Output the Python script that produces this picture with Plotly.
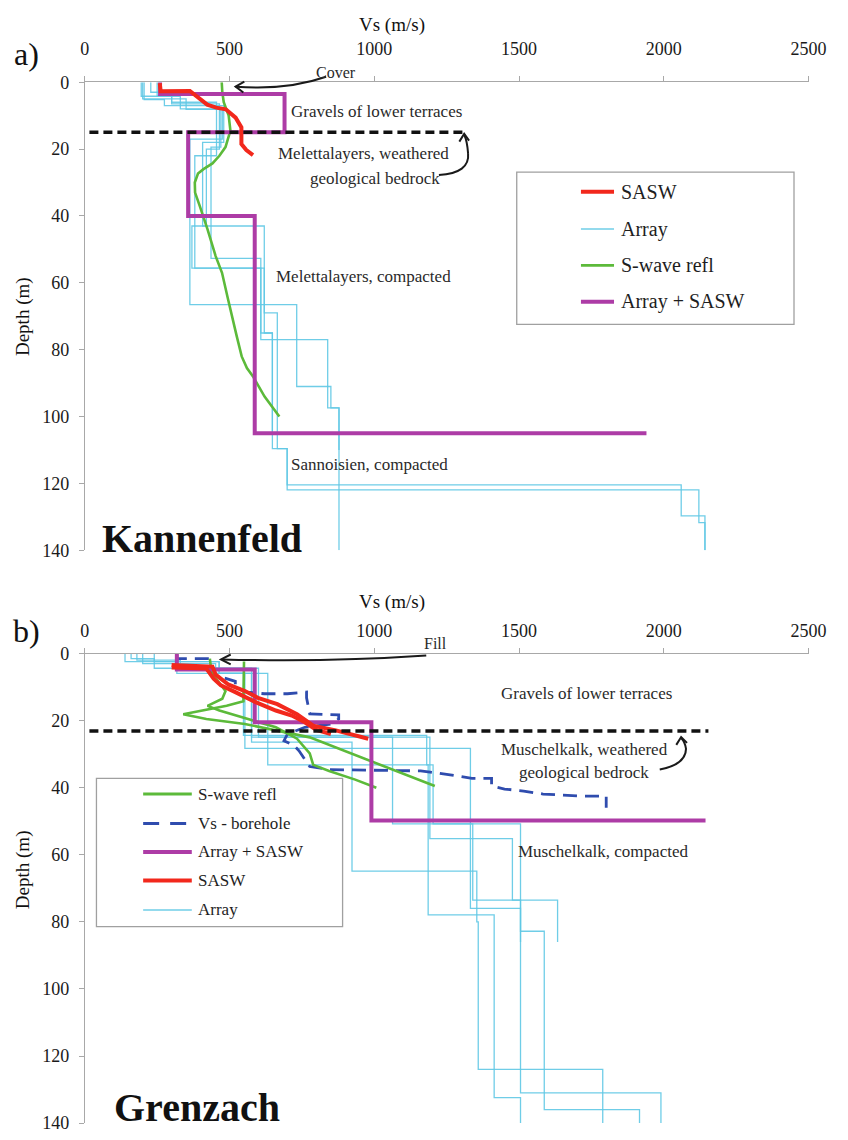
import plotly.graph_objects as go

W, H = 848, 1140
SERIF = "Liberation Serif"

# ---------------- a) Kannenfeld ----------------
ka_sasw_vs = [259, 262, 363, 396, 423, 454, 487, 521, 541, 541, 558, 581]
ka_sasw_depth = [0.3, 2.7, 2.6, 4.7, 6.7, 7.6, 8.1, 10.6, 13.5, 18.5, 20.3, 21.8]

ka_refl_vs = [473, 475, 480, 497, 503, 495, 486, 465, 441, 410, 391, 380, 381, 397,
              424, 452, 474, 495, 508, 525, 542, 560, 581, 621, 672]
ka_refl_depth = [0, 3, 6, 10, 14.5, 17, 19.4, 22, 24.3, 26, 27.3, 30, 33, 37,
                 44, 52, 57, 65, 70, 76, 82, 85.5, 88, 94, 100]

# Array + SASW layered model: layer velocities, layer bottoms, half-space
ka_comb_vs = [260, 690, 357, 587]
ka_comb_bottom = [3.5, 15, 40, 105]
ka_comb_halfspace = 1940

# Array inversions (layer velocities / layer bottoms)
ka_arr1_vs = [195, 330, 470, 436, 608, 839, 850, 878]
ka_arr1_bottom = [4.2, 8, 19.4, 52.7, 77, 91, 97.4, 140]
ka_arr2_vs = [205, 275, 480, 407, 620, 665, 699, 2060, 2142]
ka_arr2_bottom = [5.2, 7, 18, 43, 69, 109.6, 120.4, 129.7, 140]
ka_arr3_vs = [228, 300, 455, 380, 620, 648, 699, 2121, 2142]
ka_arr3_bottom = [3, 6, 22, 55.6, 75, 109.6, 121.9, 131.7, 140]
ka_arr4_vs = [200, 350, 475, 363, 732, 839, 878]
ka_arr4_bottom = [5, 8.1, 17, 66.5, 91, 97.4, 110]
ka_arr5_vs = [250, 300, 465, 420, 370, 608, 648]
ka_arr5_bottom = [4, 6.5, 20, 43, 55.6, 75, 105]

ka_boundary_depth = 15
ka_boundary_vs = [16, 1310]

# ---------------- b) Grenzach ----------------
gr_sasw1_vs = [300, 441, 452, 497, 553, 598, 665, 733, 789, 867, 979]
gr_sasw1_depth = [3.4, 3.9, 6.3, 9.3, 11.2, 13.2, 15.1, 18.1, 21.5, 22.9, 25.4]
gr_sasw2_vs = [300, 420, 445, 470, 520, 590, 660, 715, 760, 800, 850]
gr_sasw2_depth = [4.2, 4.5, 7.5, 9.5, 11.5, 14.5, 17, 18.5, 20.5, 22.8, 24]

gr_refl1_vs = [432, 436, 452, 486, 475, 424, 465, 560, 660, 733, 777, 789, 844, 934, 1007]
gr_refl1_depth = [1.5, 4.4, 7.3, 11.2, 13.5, 15.6, 17, 19.5, 22, 25.4, 29.8, 33.2, 35, 37.6, 40]
gr_refl2_vs = [550, 549, 548, 490, 400, 340, 420, 553, 777, 979, 1209]
gr_refl2_depth = [2.4, 8, 14.2, 15.6, 17, 18.1, 19.5, 21, 25, 31.7, 39.5]

gr_borehole_vs = [318, 318, 430, 430, 445, 520, 520, 560, 620, 700, 766, 766, 777, 877,
                  877, 850, 760, 700, 688, 721, 740, 755, 777, 844, 1160, 1226, 1293,
                  1337, 1405, 1405, 1450, 1516, 1583, 1717, 1801, 1801]
gr_borehole_depth = [0.3, 1.5, 1.5, 5, 6.3, 8.3, 10, 11.5, 12, 12, 11.5, 13.2, 18, 18.3,
                     19.5, 21, 22, 24, 26, 27.3, 29, 30.8, 33.7, 34.6, 35, 35.7, 36.6,
                     37.2, 37.2, 39.5, 40.4, 41, 41.9, 42.5, 42.5, 46]

gr_comb_vs = [318, 587, 990]
gr_comb_bottom = [4.8, 20.5, 49.8]
gr_comb_halfspace = 2144

gr_arr1_vs = [139, 318, 548, 1181, 1186, 1414, 1505]
gr_arr1_bottom = [2.4, 5.9, 24.4, 33.2, 77.9, 132.4, 140]
gr_arr2_vs = [160, 240, 576, 1192, 1477, 1633]
gr_arr2_bottom = [1.5, 4.4, 24.9, 55.2, 73.5, 86]
gr_arr3_vs = [200, 452, 576, 923, 1354, 1359, 1789]
gr_arr3_bottom = [3, 5.9, 26.4, 64.9, 80, 124, 140]
gr_arr4_vs = [240, 464, 553, 1332, 1505, 1587, 1916]
gr_arr4_bottom = [2.4, 5.9, 28.3, 76, 82.8, 136, 140]
gr_arr5_vs = [318, 464, 632, 1203, 1505, 1990]
gr_arr5_bottom = [2.4, 5.9, 33.2, 50.8, 131, 140]
gr_arr6_vs = [180, 330, 600, 1063, 1340, 1505]
gr_arr6_bottom = [2, 4.4, 24.9, 50.8, 73.5, 86]

gr_boundary_depth = 23.1
gr_boundary_vs = [16, 2154]

x_ticks = [0, 500, 1000, 1500, 2000, 2500]
depth_ticks = [0, 20, 40, 60, 80, 100, 120, 140]

C_SASW = "#f2281c"
C_ARRAY = "rgba(95,200,228,0.9)"
C_REFL = "#5cba3a"
C_COMB = "#ad3ca6"
C_BORE = "#2f4cae"


def layered(vs, bottoms, halfspace=None):
    """Turn layer velocities + bottom depths into a step profile."""
    xs, ys, top = [], [], 0
    for v, b in zip(vs, bottoms):
        xs += [v, v]
        ys += [top, b]
        top = b
    if halfspace is not None:
        xs.append(halfspace)
        ys.append(top)
    return xs, ys


def px(x, y):
    return x / W, 1 - y / H


fig = go.Figure()


def add(xs, ys, axis, color, width, dash=None):
    fig.add_trace(go.Scatter(
        x=xs, y=ys, mode="lines", xaxis="x" + axis, yaxis="y" + axis,
        line=dict(color=color, width=width, dash=dash, shape="linear"),
        showlegend=False, hoverinfo="skip"))


# panel a
for vs, bt in [(ka_arr1_vs, ka_arr1_bottom), (ka_arr2_vs, ka_arr2_bottom),
               (ka_arr3_vs, ka_arr3_bottom), (ka_arr4_vs, ka_arr4_bottom),
               (ka_arr5_vs, ka_arr5_bottom)]:
    add(*layered(vs, bt), "", C_ARRAY, 1.3)
add(ka_refl_vs, ka_refl_depth, "", C_REFL, 2.6)
add(*layered(ka_comb_vs, ka_comb_bottom, ka_comb_halfspace), "", C_COMB, 4)
add(ka_sasw_vs, ka_sasw_depth, "", C_SASW, 4)
add(ka_boundary_vs, [ka_boundary_depth] * 2, "", "#111", 3.5, "9px,5px")

# panel b
for vs, bt in [(gr_arr1_vs, gr_arr1_bottom), (gr_arr2_vs, gr_arr2_bottom),
               (gr_arr3_vs, gr_arr3_bottom), (gr_arr4_vs, gr_arr4_bottom),
               (gr_arr5_vs, gr_arr5_bottom), (gr_arr6_vs, gr_arr6_bottom)]:
    add(*layered(vs, bt), "2", C_ARRAY, 1.3)
add(gr_borehole_vs, gr_borehole_depth, "2", C_BORE, 2.8, "14px,8px")
add(gr_refl1_vs, gr_refl1_depth, "2", C_REFL, 2.6)
add(gr_refl2_vs, gr_refl2_depth, "2", C_REFL, 2.6)
add(*layered(gr_comb_vs, gr_comb_bottom, gr_comb_halfspace), "2", C_COMB, 4)
add(gr_sasw1_vs, gr_sasw1_depth, "2", C_SASW, 4)
add(gr_sasw2_vs, gr_sasw2_depth, "2", C_SASW, 4)
add(gr_boundary_vs, [gr_boundary_depth] * 2, "2", "#111", 3.5, "9px,5px")

xdom = [82 / W, 826 / W]
axis_common = dict(showgrid=False, zeroline=False, showline=True, linecolor="#a8a8a8",
                   linewidth=1, ticks="outside", ticklen=5, tickcolor="#a8a8a8",
                   tickfont=dict(family=SERIF, size=18, color="#1a1a1a"))

fig.update_layout(
    width=W, height=H, margin=dict(l=0, r=0, t=0, b=0),
    paper_bgcolor="white", plot_bgcolor="white", showlegend=False,
    font=dict(family=SERIF),
    xaxis=dict(domain=xdom, range=[0, 2500], side="top", anchor="y",
               tickvals=x_ticks, ticklabelstandoff=14, **axis_common),
    yaxis=dict(domain=[1 - 550 / H, 1 - 73.5 / H], range=[140, 0], anchor="x",
               tickvals=depth_ticks, ticklabelstandoff=6, **axis_common),
    xaxis2=dict(domain=xdom, range=[0, 2500], side="top", anchor="y2",
                tickvals=x_ticks, ticklabelstandoff=3, **axis_common),
    yaxis2=dict(domain=[1 - 1133 / H, 1 - 655 / H], range=[140, 0], anchor="x2",
                tickvals=depth_ticks, ticklabelstandoff=6, **axis_common),
)

annotations = []
shapes = []


def text(x, y, s, size=16, bold=False, angle=0, anchor="center", color="#2a2a2a"):
    ax, ay = px(x, y)
    annotations.append(dict(
        x=ax, y=ay, xref="paper", yref="paper", text=f"<b>{s}</b>" if bold else s,
        showarrow=False, xanchor=anchor, yanchor="middle", textangle=angle,
        font=dict(family=SERIF, size=size, color=color)))


def path(points_cmd, color="#1a1a1a", width=2):
    out = []
    for item in points_cmd:
        if isinstance(item, str):
            out.append(item)
        else:
            a, b = px(*item)
            out.append(f"{a:.5f},{b:.5f}")
    shapes.append(dict(type="path", xref="paper", yref="paper", path=" ".join(out),
                       line=dict(color=color, width=width)))


# panel labels and titles
text(22, 45, "a)", size=32, color="#111")
text(22, 632, "b)", size=32, color="#111")
text(398, 15, "Vs (m/s)", size=19, color="#111")
text(398, 603, "Vs (m/s)", size=19, color="#111")
text(18, 312, "Depth (m)", size=19, angle=-90, color="#111")
text(18, 875, "Depth (m)", size=19, angle=-90, color="#111")
text(203, 538, "Kannenfeld", size=40, bold=True, color="#111")
text(197, 1117, "Grenzach", size=40, bold=True, color="#111")

# geological units, panel a
text(340, 64, "Cover", size=16)
text(382, 103, "Gravels of lower terraces", size=17)
text(368, 146, "Melettalayers, weathered", size=17)
text(380, 172, "geological bedrock", size=17)
text(369, 271, "Melettalayers, compacted", size=17)
text(375, 463, "Sannoisien, compacted", size=17)

# geological units, panel b
text(443, 645, "Fill", size=16)
text(598, 696, "Gravels of lower terraces", size=17)
text(596, 753, "Muschelkalk, weathered", size=17)
text(595, 776, "geological bedrock", size=17)
text(615, 857, "Muschelkalk, compacted", size=17)

# pointer arrows
path(["M", (330, 68), "Q", (290, 82), (237, 78)])
path(["M", (246, 73), "L", (237, 78), "L", (245, 84)])
path(["M", (446, 168), "Q", (478, 166), (476, 146), "Q", (475, 133), (472, 127)])
path(["M", (467, 134), "L", (472, 126), "L", (477, 133)])
path(["M", (433, 657), "Q", (330, 664), (223, 661)])
path(["M", (232, 656), "L", (222, 661), "L", (232, 666)])
path(["M", (673, 773), "Q", (700, 768), (700, 752), "Q", (699, 745), (695, 741)])
path(["M", (690, 748), "L", (695, 740), "L", (701, 746)])


def legend(box, rows, x0, x1, tx, size):
    (bx0, by0, bx1, by1) = box
    a0, b0 = px(bx0, by0)
    a1, b1 = px(bx1, by1)
    shapes.append(dict(type="rect", xref="paper", yref="paper", x0=a0, y0=b1, x1=a1, y1=b0,
                       line=dict(color="#a0a0a0", width=1.3), fillcolor="white", layer="above"))
    for y, label, color, width, dash in rows:
        p0 = px(x0, y)
        p1 = px(x1, y)
        shapes.append(dict(type="line", xref="paper", yref="paper", x0=p0[0], y0=p0[1],
                           x1=p1[0], y1=p1[1], layer="above",
                           line=dict(color=color, width=width, dash=dash)))
        text(tx, y, label, size=size, anchor="left", color="#1e1e1e")


legend((526, 165, 811, 320), [
    (185, "SASW", C_SASW, 4, None),
    (223, "Array", C_ARRAY, 1.5, None),
    (260, "S-wave refl", C_REFL, 2.8, None),
    (297, "Array + SASW", C_COMB, 4, None),
], 592, 626, 631, 20)

legend((94, 782, 347, 933), [
    (798, "S-wave refl", C_REFL, 2.8, None),
    (828, "Vs - borehole", C_BORE, 3, "16px,11px"),
    (857, "Array + SASW", C_COMB, 4, None),
    (886, "SASW", C_SASW, 4, None),
    (916, "Array", C_ARRAY, 1.5, None),
], 142, 192, 196, 17)

fig.update_layout(annotations=annotations, shapes=shapes)
fig.write_html("out.html")
